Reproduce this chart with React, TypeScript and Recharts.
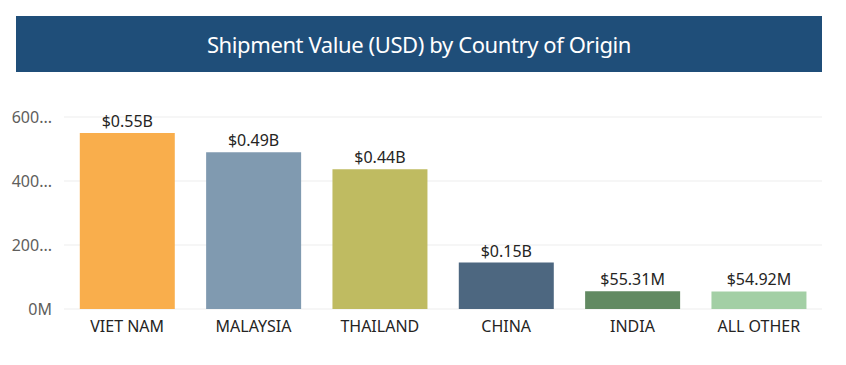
import React from 'react'
import { BarChart, Bar, XAxis, YAxis, CartesianGrid, Cell, LabelList } from 'recharts'

const countries = ['VIET NAM', 'MALAYSIA', 'THAILAND', 'CHINA', 'INDIA', 'ALL OTHER']
const shipmentValues = [550e6, 490e6, 437e6, 145e6, 55.31e6, 54.92e6]
const barColors = ['#F9AE4C', '#809AB0', '#BFBB61', '#4D6780', '#628A62', '#A3CFA5']
const yTicks = [0, 200e6, 400e6, 600e6]
const yTickLabels = ['0M', '200...', '400...', '600...']

const data = countries.map((name, i) => ({ name, value: shipmentValues[i] }))

const font = '"Segoe UI", "Noto Sans", "Open Sans", sans-serif'

const fmtValue = (v: any) => {
  const n = Number(v)
  if (n >= 100e6) return '$' + (Math.round(n / 1e7) / 100).toFixed(2) + 'B'
  return '$' + (n / 1e6).toFixed(2) + 'M'
}

export default function App() {
  return (
    <div style={{ position: 'absolute', left: 0, top: 0, width: 846, height: 365, background: '#fff', fontFamily: font }}>
      <div
        style={{
          position: 'absolute', left: 16, top: 16, width: 806, height: 56,
          background: '#1F4E79', color: '#fff', fontSize: 22, lineHeight: '56px',
          textAlign: 'center', letterSpacing: -0.4,
        }}
      >
        Shipment Value (USD) by Country of Origin
      </div>
      <div style={{ position: 'absolute', left: 0, top: 0 }}>
        <BarChart
          width={846}
          height={365}
          data={data}
          margin={{ top: 117, right: 24, bottom: 26, left: 0 }}
          barCategoryGap="12.5%"
        >
          <CartesianGrid vertical={false} stroke="#EDEDED" strokeWidth={1} />
          <XAxis
            dataKey="name"
            axisLine={false}
            tickLine={false}
            height={30}
            tick={{ fill: '#252423', fontSize: 16, fontFamily: font }}
            tickMargin={6}
            interval={0}
          />
          <YAxis
            width={64}
            domain={[0, 600e6]}
            ticks={yTicks}
            axisLine={false}
            tickLine={false}
            tickFormatter={(v: number) => yTickLabels[yTicks.indexOf(v)]}
            tick={{ fill: '#605E5C', fontSize: 16, fontFamily: font }}
            tickMargin={6}
          />
          <Bar dataKey="value" isAnimationActive={false}>
            {data.map((d, i) => (
              <Cell key={d.name} fill={barColors[i]} />
            ))}
            <LabelList
              dataKey="value"
              position="top"
              offset={6}
              formatter={fmtValue}
              style={{ fill: '#252423', fontSize: 16, fontFamily: font }}
            />
          </Bar>
        </BarChart>
      </div>
    </div>
  )
}
